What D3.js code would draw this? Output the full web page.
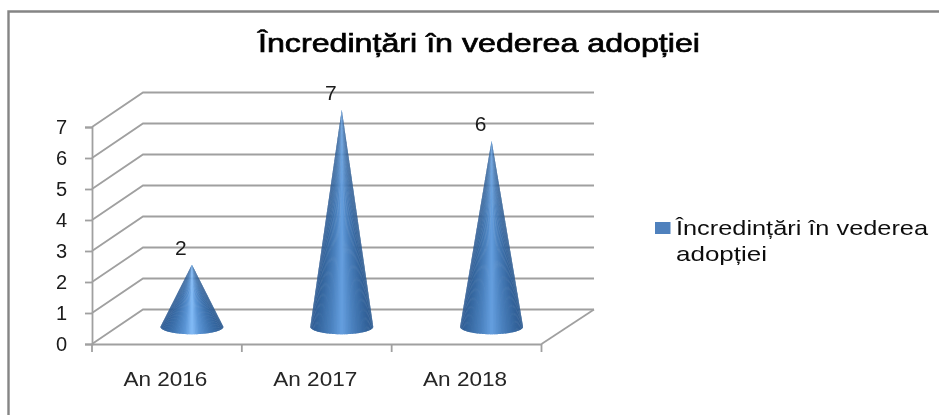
<!DOCTYPE html>
<html><head><meta charset="utf-8">
<script src="https://cdn.jsdelivr.net/npm/d3@7"></script>
<style>html,body{margin:0;padding:0;background:#fff}svg{display:block}text{font-family:"Liberation Sans",Arial,sans-serif}</style>
</head><body><div id="c"></div>
<script>
const categories=["An 2016","An 2017","An 2018"];
const values=[2,7,6];
const yTicks=[0,1,2,3,4,5,6,7];
const titleText="Încredințări în vederea adopției";
const legendLines=["Încredințări în vederea","adopției"];
const legendWidths=[252,91];
const W=939,H=415;
const svg=d3.select("#c").append("svg").attr("width",W).attr("height",H);
const defs=svg.append("defs");
const f=defs.append("filter").attr("id","soft").attr("filterUnits","userSpaceOnUse").attr("x",0).attr("y",0).attr("width",W).attr("height",H);
f.append("feGaussianBlur").attr("stdDeviation",0.5);
const root=svg.append("g").attr("filter","url(#soft)");
const depthX=51,depthY=-34.5;
const x=d3.scaleBand().domain(categories).range([92,541.5]);
const y=d3.scaleLinear().domain([0,7]).range([344,127]);
const grid="#a0a0a0",gw=1.8;
root.append("path").attr("fill","none").attr("stroke","#858585").attr("stroke-width",2.4).attr("d",d3.line()([[8.5,H],[8.5,11.5],[W,11.5]]));
yTicks.forEach(t=>{
  const y0=y(t);
  root.append("path").attr("fill","none").attr("stroke",grid).attr("stroke-width",gw)
   .attr("d",d3.line()([[92,y0],[92+depthX,y0+depthY],[594,y0+depthY]]));
});
root.append("path").attr("fill","none").attr("stroke",grid).attr("stroke-width",gw)
  .attr("d",d3.line()([[541.5,344],[594,344+depthY]]));
const gy=root.append("g").attr("transform","translate(92,0)").call(d3.axisLeft(y).tickValues(yTicks).tickFormat(d3.format("d")).tickSize(7).tickPadding(18));
gy.select(".domain").attr("stroke",grid).attr("stroke-width",gw);
gy.selectAll("line").attr("stroke",grid).attr("stroke-width",gw);
gy.selectAll("text").attr("font-size",20).attr("fill","#1a1a1a");
const gx=root.append("g").attr("transform","translate(0,344)").call(d3.axisBottom(x).tickSize(0).tickPadding(0));
gx.selectAll("path").attr("stroke",grid).attr("stroke-width",gw);
gx.selectAll(".tick line").remove();
gx.selectAll(".tick text").attr("y",42).attr("dy",0).attr("dx",-1.5).attr("font-size",20).attr("fill","#262626")
  .attr("textLength",84).attr("lengthAdjust","spacingAndGlyphs");
const edges=[...categories.map(c=>x(c)),541.5];
root.selectAll(".xt").data(edges).join("line").attr("x1",d=>d).attr("x2",d=>d).attr("y1",344).attr("y2",352).attr("stroke",grid).attr("stroke-width",gw);
// cones: shaded slices painted from the rim edges inward, so the lit centre ends on top
const rampBright=d3.scaleLinear().domain([0,.2,.38,.5,.62,.8,1]).range(["#2d5a92","#3f74b0","#5a94d4","#84bcf8","#5a94d4","#3f74b0","#2c5a90"]);
const rampNormal=d3.scaleLinear().domain([0,.12,.32,.5,.68,.88,1]).range(["#2d5a92","#35679f","#4a80bd","#659fe0","#4a80bd","#35669e","#2c5a90"]);
const rx=31.5,ry=7.5,N=60;
values.forEach((v,i)=>{
  const cx=x(categories[i])+x.bandwidth()/2+depthX/2-0.5;
  const by=y(0)+depthY/2;
  const ay=y(v)+depthY/2;
  const ramp=i==0?rampBright:rampNormal;
  const g=root.append("g");
  const rim=k=>{const a=Math.PI-Math.PI*k/N;return [cx+rx*Math.cos(a),by+ry*Math.sin(a)];};
  const order=d3.range(N).sort((a,b)=>Math.abs(b+.5-N/2)-Math.abs(a+.5-N/2));
  order.forEach(k=>{
    const left=k<N/2;
    const k0=left?k:k-0.6,k1=left?k+1.6:k+1;
    const p0=rim(k0),p1=rim((k0+k1)/2),p2=rim(k1);
    const t=(rim(k+.5)[0]-cx+rx)/(2*rx);
    g.append("path").attr("d",d3.line()([[cx,ay],p0,p1,p2])+"Z").attr("fill",ramp(t));
  });
  root.append("text").attr("x",cx-11).attr("y",ay-10).attr("text-anchor","middle").attr("font-size",21).attr("fill","#1a1a1a").text(v);
});
root.append("text").attr("x",479).attr("y",52).attr("text-anchor","middle").attr("font-size",26.5).attr("fill","#000").attr("stroke","#000").attr("stroke-width",.7)
  .attr("textLength",442).attr("lengthAdjust","spacingAndGlyphs").text(titleText);
root.append("rect").attr("x",655).attr("y",222).attr("width",15.5).attr("height",12).attr("fill","#4f81bd");
root.selectAll(".lg").data(legendLines).join("text").attr("x",676).attr("y",(d,i)=>235+i*26).attr("font-size",21).attr("fill","#111")
  .attr("textLength",(d,i)=>legendWidths[i]).attr("lengthAdjust","spacingAndGlyphs").text(d=>d);
</script></body></html>
